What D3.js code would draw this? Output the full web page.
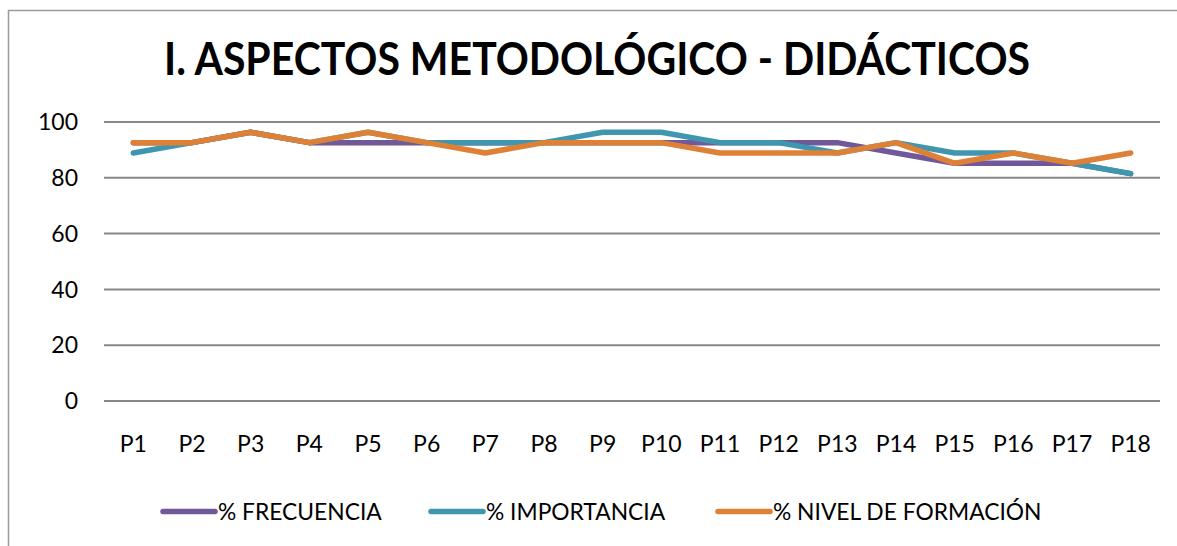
<!DOCTYPE html>
<html>
<head>
<meta charset="utf-8">
<script src="https://cdn.jsdelivr.net/npm/d3@7"></script>
<style>
  body { margin: 0; background: #fff; }
  text { font-family: Lato, "Open Sans", sans-serif; fill: #000; }
</style>
</head>
<body>
<svg id="chart" width="1177" height="546"></svg>
<script>
const categories = ["P1","P2","P3","P4","P5","P6","P7","P8","P9","P10","P11","P12","P13","P14","P15","P16","P17","P18"];
const frecuencia = [92.6,92.6,96.3,92.6,92.6,92.6,92.6,92.6,92.6,92.6,92.6,92.6,92.6,88.9,85.2,85.2,85.2,81.5];
const importancia = [88.9,92.6,96.3,92.6,96.3,92.6,92.6,92.6,96.3,96.3,92.6,92.6,88.9,92.6,88.9,88.9,85.2,81.5];
const nivel = [92.6,92.6,96.3,92.6,96.3,92.6,88.9,92.6,92.6,92.6,88.9,88.9,88.9,92.6,85.2,88.9,85.2,88.9];
const yTicks = [0, 20, 40, 60, 80, 100];
const seriesNames = ["% FRECUENCIA", "% IMPORTANCIA", "% NIVEL DE FORMACIÓN"];

const series = [
    { name: seriesNames[0], values: frecuencia, color: "#71589A" },
    { name: seriesNames[1], values: importancia, color: "#3F96AE" },
    { name: seriesNames[2], values: nivel, color: "#DE8137" }
];

const svg = d3.select("#chart");

// outer frame (top + left edges only visible in the crop)
svg.append("path")
    .attr("d", "M8.5,546 L8.5,10.5 L1177,10.5")
    .attr("fill", "none")
    .attr("stroke", "#9a9a9a")
    .attr("stroke-width", 1.5);

svg.append("text")
    .attr("x", 597)
    .attr("y", 75)
    .attr("text-anchor", "middle")
    .attr("font-size", 46)
    .attr("font-weight", "bold")
    .attr("textLength", 866)
    .attr("lengthAdjust", "spacingAndGlyphs")
    .text("I. ASPECTOS METODOLÓGICO - DIDÁCTICOS");

const x = d3.scaleBand().domain(categories).range([104, 1160]);
const y = d3.scaleLinear().domain([0, 100]).range([401, 122]);

// gridlines
svg.append("g")
    .selectAll("line")
    .data(yTicks)
    .join("line")
    .attr("x1", 104)
    .attr("x2", 1160)
    .attr("y1", d => y(d))
    .attr("y2", d => y(d))
    .attr("stroke", "#888")
    .attr("stroke-width", 2);

// y labels
svg.append("g")
    .selectAll("text")
    .data(yTicks)
    .join("text")
    .attr("x", 78)
    .attr("y", d => y(d))
    .attr("dy", "0.36em")
    .attr("text-anchor", "end")
    .attr("font-size", 23)
    .text(d => d);

// x labels
svg.append("g")
    .selectAll("text")
    .data(categories)
    .join("text")
    .attr("x", d => x(d) + x.bandwidth() / 2)
    .attr("y", 452)
    .attr("text-anchor", "middle")
    .attr("font-size", 23)
    .text(d => d);

const line = d3.line()
    .x((d, i) => x(categories[i]) + x.bandwidth() / 2)
    .y(d => y(d));

svg.append("g")
    .selectAll("path")
    .data(series)
    .join("path")
    .attr("d", d => line(d.values))
    .attr("fill", "none")
    .attr("stroke", d => d.color)
    .attr("stroke-width", 5.5)
    .attr("stroke-linecap", "round")
    .attr("stroke-linejoin", "round");

// legend
const legendX = [163, 431, 718];
const legend = svg.append("g")
    .selectAll("g")
    .data(series)
    .join("g")
    .attr("transform", (d, i) => `translate(${legendX[i]},511.5)`);

legend.append("line")
    .attr("x1", 0)
    .attr("x2", 52)
    .attr("stroke", d => d.color)
    .attr("stroke-width", 5.5)
    .attr("stroke-linecap", "round");

legend.append("text")
    .attr("x", 55)
    .attr("dy", "0.36em")
    .attr("font-size", 22.8)
    .text(d => d.name);
</script>
</body>
</html>
